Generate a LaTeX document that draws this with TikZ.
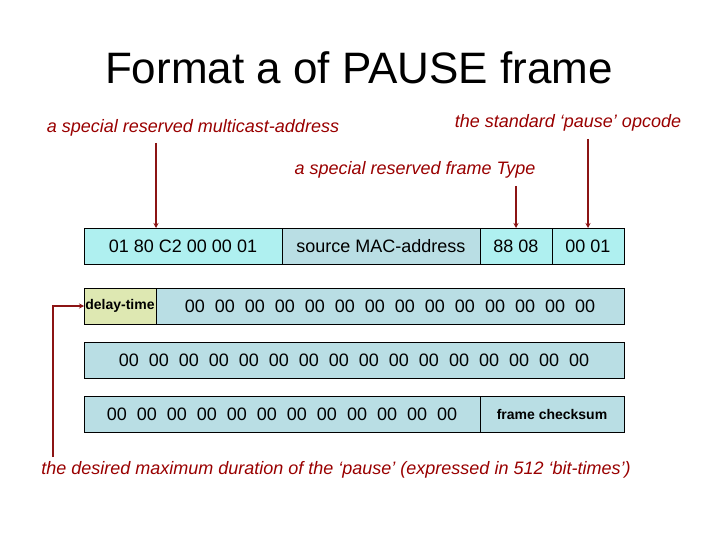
\documentclass[tikz,border=0pt]{standalone}
\usepackage{fontspec}
\setmainfont{Liberation Sans}
\usepackage{xcolor}
\usetikzlibrary{arrows.meta,positioning}
\definecolor{notered}{RGB}{153,0,0}
\definecolor{linered}{RGB}{140,20,20}
\definecolor{fieldcyan}{RGB}{175,240,240}
\definecolor{fieldgray}{RGB}{185,222,228}
\definecolor{fieldlime}{RGB}{222,232,178}

\begin{document}
\begin{tikzpicture}[
  x=1pt,
  y=-1pt,
  field/.style={draw=black, line width=0.8pt, minimum height=36pt, inner sep=0pt, outer sep=0pt, font=\fontsize{18}{21}\selectfont},
  cyanfield/.style={field, fill=fieldcyan},
  grayfield/.style={field, fill=fieldgray},
  smallfield/.style={field, font=\fontsize{14}{16}\selectfont\bfseries},
  note/.style={text=notered, font=\fontsize{18}{21}\selectfont\itshape, inner sep=1pt},
  pointer/.style={draw=linered, line width=1.6pt, -{Stealth[length=5pt,width=5pt]}}
]
\useasboundingbox (0,0) rectangle (720,540);
\node[font=\fontsize{44}{50}\selectfont] (title) at (359,68) {Format a of PAUSE frame};
% header row
\node[cyanfield, minimum width=198pt, anchor=north west] (dst) at (84,228) {01 80 C2 00 00 01};
\node[grayfield, minimum width=198pt, right=0pt of dst] (src) {source MAC-address};
\node[cyanfield, minimum width=72pt, right=0pt of src] (type) {88 08};
\node[cyanfield, minimum width=72pt, right=0pt of type] (opcode) {00 01};
% parameters and padding
\node[smallfield, fill=fieldlime, minimum width=72pt, anchor=north west] (delay) at (84,288) {delay-time};
\node[grayfield, minimum width=468pt, right=0pt of delay] (padA) {00~~00~~00~~00~~00~~00~~00~~00~~00~~00~~00~~00~~00~~00};
\node[grayfield, minimum width=540pt, anchor=north west] (padB) at (84,342) {00~~00~~00~~00~~00~~00~~00~~00~~00~~00~~00~~00~~00~~00~~00~~00};
\node[grayfield, minimum width=396pt, anchor=north west] (padC) at (84,396) {00~~00~~00~~00~~00~~00~~00~~00~~00~~00~~00~~00};
\node[smallfield, fill=fieldgray, minimum width=144pt, right=0pt of padC] (fcs) {frame checksum};
% notes
\node[note] (lblmcast) at (193,128) {a special reserved multicast-address};
\node[note] (lblopcode) at (568,123) {the standard ‘pause’ opcode};
\node[note] (lbltype) at (415,170) {a special reserved frame Type};
\node[note] (lbldelay) at (336,470) {the desired maximum duration of the ‘pause’ (expressed in 512 ‘bit-times’)};
\coordinate (mcastfoot) at (156,143);
\coordinate (opcodefoot) at (588,139);
\coordinate (typefoot) at (516,186);
\coordinate (delayfoot) at (53,457);
\draw[pointer] (mcastfoot) -- (mcastfoot |- dst.north);
\draw[pointer] (opcodefoot) -- (opcode.north);
\draw[pointer] (typefoot) -- (type.north);
\draw[pointer] (delayfoot) |- (delay.west);
\end{tikzpicture}
\end{document}
